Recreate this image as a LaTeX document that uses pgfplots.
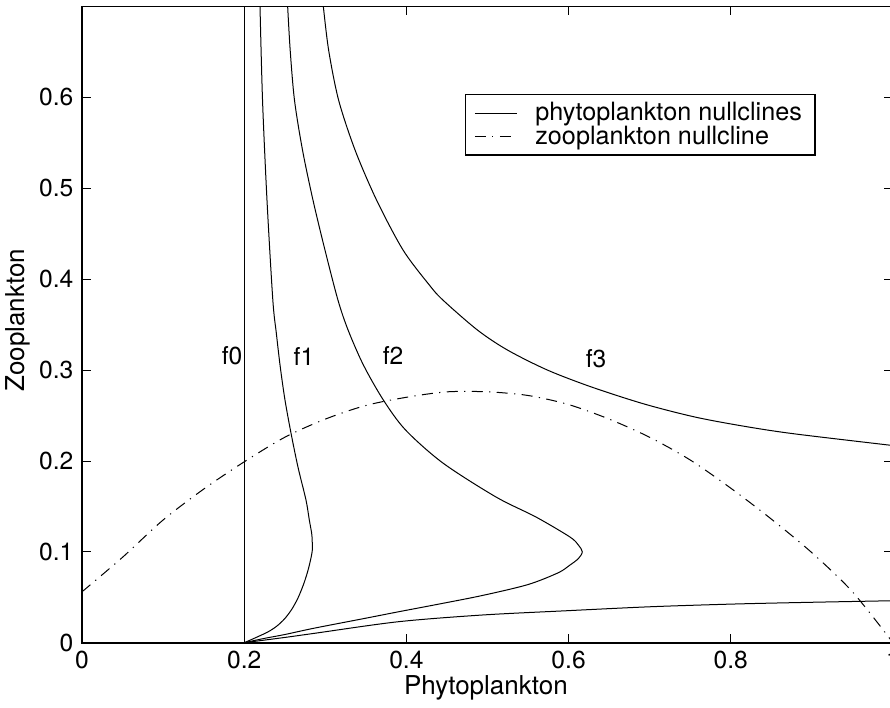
\documentclass[border=0pt]{standalone}
\usepackage{fontspec}
\setmainfont{TeX Gyre Heros}
\usepackage{pgfplots}
\pgfplotsset{compat=1.18}
\begin{document}
\fontsize{12.3}{14.5}\selectfont
\begin{tikzpicture}
\begin{axis}[
  scale only axis, width=405.5pt, height=318.15pt,
  xmin=0, xmax=1, ymin=0, ymax=0.7,
  xtick={0,0.2,0.4,0.6,0.8,1}, ytick={0,0.1,0.2,0.3,0.4,0.5,0.6},
  /pgf/number format/assume math mode=true,
  tick label style={font=\fontsize{12.3}{14.5}\selectfont},
  label style={font=\fontsize{13}{15}\selectfont},
  tick align=inside, major tick length=4.5pt,
  tick style={black, line width=0.4pt},
  axis line style={line width=0.8pt},
  xlabel={Phytoplankton}, ylabel={Zooplankton},
  xlabel style={at={(axis description cs:0.498,-0.071)}, anchor=center},
  ylabel style={at={(axis description cs:-0.079,0.507)}, anchor=center},
  legend style={at={(axis description cs:0.472,0.862)}, anchor=north west,
    draw=black, line width=0.6pt, fill=white, inner xsep=4.5pt, inner ysep=1.6pt,
    font=\fontsize{12.6}{14.5}\selectfont, row sep=-3.2pt, column sep=7pt,
    nodes={inner sep=2pt}},
  legend cell align=left,
  legend image code/.code={\draw[#1] (0pt,0pt) -- (21pt,0pt);},
  clip=true,
]
% f1 (legend entry for phytoplankton nullclines)
\addplot[black, line width=0.5pt, smooth, tension=0.5] coordinates {
(0.2195,0.7) (0.2226,0.5970) (0.2281,0.4870) (0.2353,0.3770) (0.2396,0.3407)
(0.2445,0.3033) (0.2503,0.2670) (0.2577,0.2307) (0.2663,0.1933) (0.2762,0.1570)
(0.2803,0.1350) (0.2832,0.1204) (0.2838,0.1130) (0.2840,0.1020) (0.2818,0.0910)
(0.2781,0.0778) (0.2729,0.0635) (0.2663,0.0492) (0.2589,0.0371) (0.2503,0.0268)
(0.2404,0.0184) (0.2297,0.0121) (0.2145,0.0057) (0.2,0)};
\addlegendentry{phytoplankton nullclines}
% zooplankton nullcline
\addplot[black, line width=0.5pt, smooth, dash pattern=on 5.5pt off 3.2pt on 0.6pt off 3.2pt] coordinates {
(0,0.056) (0.05,0.094) (0.1,0.135) (0.15,0.169) (0.2,0.199) (0.25,0.226)
(0.3,0.246) (0.35,0.261) (0.4,0.270) (0.45,0.276) (0.5,0.276) (0.55,0.272)
(0.6,0.262) (0.65,0.246) (0.7,0.226) (0.75,0.201) (0.8,0.170) (0.85,0.136)
(0.9,0.099) (0.95,0.056) (1.0,0.0)};
\addlegendentry{zooplankton nullcline}
% f0
\addplot[black, line width=0.5pt, forget plot] coordinates {(0.2,0) (0.2,0.7)};
% f2
\addplot[black, line width=0.5pt, smooth, tension=0.5, forget plot] coordinates {
(0.2536,0.7) (0.2567,0.6520) (0.2620,0.5970) (0.2719,0.5420) (0.2848,0.4870)
(0.2996,0.4320) (0.3156,0.3770) (0.3281,0.3440) (0.3470,0.3055) (0.3716,0.2670)
(0.3990,0.2340) (0.4450,0.1977) (0.5105,0.1603) (0.5598,0.1383) (0.6017,0.1163)
(0.6120,0.1075) (0.6169,0.1000) (0.6120,0.0925) (0.6010,0.0850) (0.5873,0.0770)
(0.5500,0.0640) (0.4938,0.0520) (0.4400,0.0425) (0.3900,0.0340) (0.3500,0.0270)
(0.2863,0.0160) (0.2500,0.0090) (0.2250,0.0048) (0.2,0)};
% f3 lower branch
\addplot[black, line width=0.5pt, smooth, tension=0.5, forget plot] coordinates {
(0.2,0) (0.25,0.0058) (0.2863,0.0103) (0.390,0.0231) (0.4938,0.0305) (0.5977,0.0352)
(0.7015,0.0396) (0.8052,0.0426) (0.9,0.0445) (1.0,0.0462)};
% f3 upper branch
\addplot[black, line width=0.5pt, smooth, tension=0.5, forget plot] coordinates {
(0.2976,0.7) (0.3041,0.6520) (0.3164,0.5970) (0.3367,0.5420) (0.3632,0.4870)
(0.3959,0.4320) (0.4283,0.3935) (0.4450,0.3770) (0.4876,0.3440) (0.5246,0.3220)
(0.5738,0.3000) (0.6283,0.2813) (0.6933,0.2626) (0.7558,0.2483) (0.8147,0.2384)
(0.8758,0.2301) (0.9963,0.2173) (1.0,0.2170)};
\node at (axis cs:0.185,0.3154) {f0};
\node at (axis cs:0.2737,0.3154) {f1};
\node at (axis cs:0.3835,0.3165) {f2};
\node at (axis cs:0.6338,0.3121) {f3};
\coordinate (bbll) at (axis description cs:-0.1011,-0.1011);
\coordinate (bbur) at (axis description cs:0.9963,1.0101);
\end{axis}
\pgfresetboundingbox
\path[use as bounding box] (bbll) rectangle (bbur);
\end{tikzpicture}
\end{document}
